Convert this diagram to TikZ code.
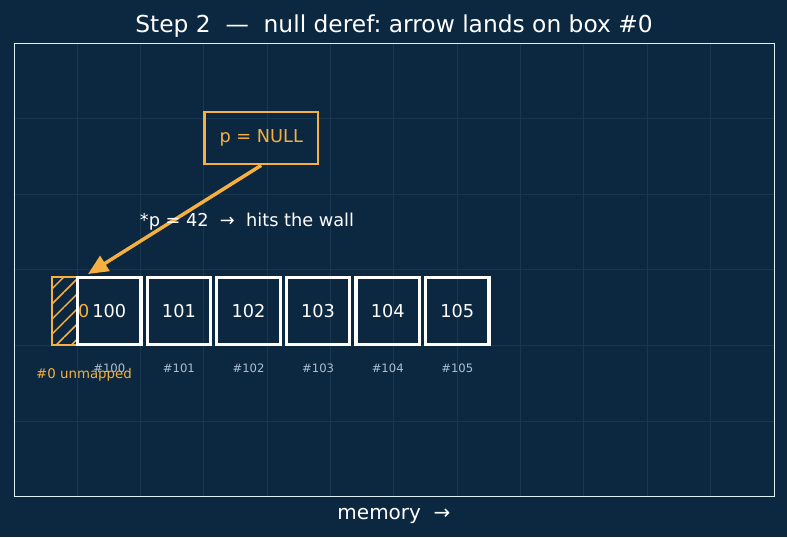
\documentclass[tikz,border=0pt]{standalone}
\usepackage{fontspec}
\setmainfont{DejaVu Sans}
\frenchspacing
\usetikzlibrary{patterns.meta,arrows.meta}
\definecolor{bg}{HTML}{0C2840}
\definecolor{gridc}{HTML}{19374F}
\definecolor{orng}{HTML}{F6B042}
\definecolor{framec}{HTML}{DDF0F2}
\definecolor{sublab}{HTML}{AEBFD1}
\tikzset{
  cell/.style={draw=white, line width=2.4pt, minimum width=47.6pt, minimum height=50.6pt, inner sep=0pt, text=white, font=\fontsize{13.3}{16}\selectfont},
  hatchbox/.style={draw=orng, line width=1.6pt, minimum width=18.75pt, minimum height=50.6pt, inner sep=0pt,
    pattern={Lines[angle=45,distance=8pt,line width=1.1pt]}, pattern color=orng},
  ptrbox/.style={draw=orng, line width=2pt, minimum width=85.1pt, minimum height=39pt, inner sep=0pt, text=orng, font=\fontsize{13.3}{16}\selectfont},
  sublabel/.style={text=sublab, font=\fontsize{8.7}{10}\selectfont, anchor=base, inner sep=0pt},
  plain/.style={text=white, font=\fontsize{13.3}{16}\selectfont, anchor=base, inner sep=0pt},
  gridline/.style={draw=gridc, line width=0.75pt},
  arr/.style={draw=orng, line width=2.6pt, -{Triangle[length=15pt,width=13pt]}}
}
\begin{document}
\begin{tikzpicture}[x=0.75pt,y=-0.75pt]
\fill[bg] (0,0) rectangle (787,537);
\useasboundingbox (0,0) rectangle (787,537);
% grid
\foreach \i in {1,...,11} \draw[gridline] ({14+63.33*\i},43) -- ({14+63.33*\i},496);
\foreach \j in {1,...,5} \draw[gridline] (14,{43+75.6*\j}) -- (774,{43+75.6*\j});
\draw[framec, line width=0.6pt] (14,43) rectangle (774,496);
% title and axis label
\node[text=white, font=\fontsize{17.5}{20}\selectfont, anchor=base, inner sep=0pt] (title) at (394,32) {Step 2~~—~~null deref: arrow lands on box \#0};
\node[text=white, font=\fontsize{15}{18}\selectfont, anchor=base, inner sep=0pt] (xlab) at (394,519) {memory~~→};
% hatched unmapped cell
\node[hatchbox] (c0) at (64.5,311) {};
% cells
\foreach \k/\v in {0/100,1/101,2/102,3/103,4/104,5/105}{
  \node[cell] (c\v) at ({109.3+69.6*\k},311) {\v};
  \node[sublabel] (s\v) at ({109.3+69.6*\k},372) {\#\v};
}
\node[text=orng, font=\fontsize{13.3}{16}\selectfont, inner sep=0pt] (zero) at (83.8,311) {0};
\node[text=orng, font=\fontsize{10}{12}\selectfont, anchor=base, inner sep=0pt] (unm) at (84,378) {\#0 unmapped};
% pointer
\node[ptrbox] (pnull) at (261.2,138) {p = NULL};
\coordinate (tip) at (88,274);
\draw[arr] (pnull.south) -- (tip);
\node[plain] (note) at (247,226) {*p = 42~~→~~hits the wall};
\end{tikzpicture}
\end{document}
